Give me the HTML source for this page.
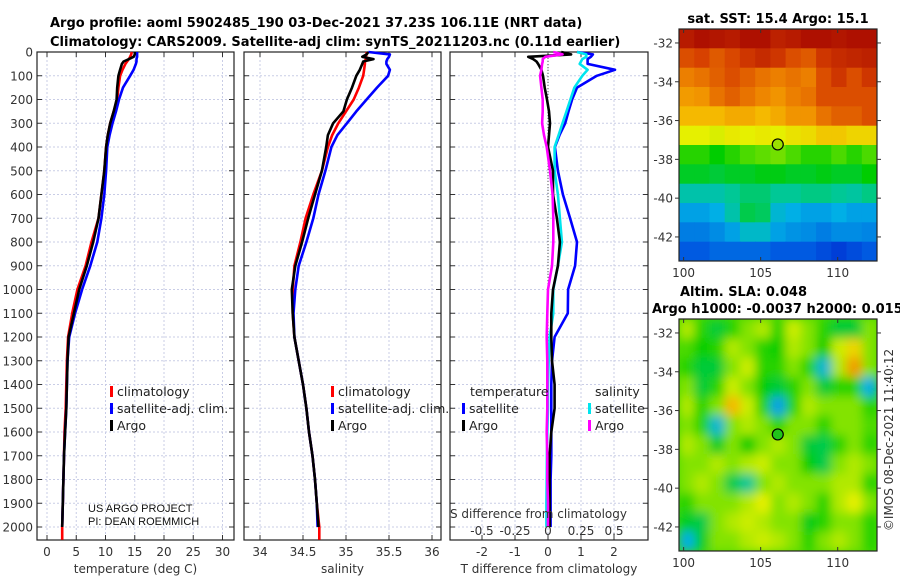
<!DOCTYPE html>
<html><head><meta charset="utf-8">
<style>
html,body{margin:0;padding:0;background:#fff;}
svg{display:block;font-family:"DejaVu Sans","Liberation Sans",sans-serif;}
.tk{font-size:12px;fill:#333;}
.ttl{font-size:13px;font-weight:bold;fill:#000;}
.lg{font-size:12.5px;fill:#222;}
</style></head>
<body>
<svg id="fig" width="900" height="580" viewBox="0 0 900 580" xmlns="http://www.w3.org/2000/svg">
<text class="ttl" x="50" y="27">Argo profile: aoml 5902485_190 03-Dec-2021 37.23S 106.11E (NRT data)</text>
<text class="ttl" x="50" y="46">Climatology: CARS2009. Satellite-adj clim: synTS_20211203.nc (0.11d earlier)</text>
<text class="ttl" x="778" y="23" text-anchor="middle">sat. SST: 15.4 Argo: 15.1</text>
<text class="ttl" x="680" y="296">Altim. SLA: 0.048</text>
<text class="ttl" x="652" y="313">Argo h1000: -0.0037 h2000: 0.015</text>
<text class="tk" transform="translate(893,440) rotate(-90)" text-anchor="middle">©IMOS 08-Dec-2021 11:40:12</text>
</svg>
<script>
// ---------- data ----------
const depths = [0,10,20,30,40,50,75,100,150,200,250,300,350,400,500,600,700,800,900,1000,1100,1200,1300,1400,1500,1600,1700,1800,1900,2000];
const tempArgo = [15.0,15.0,14.8,14.0,13.1,12.8,12.5,12.2,12.0,11.9,11.4,10.8,10.4,10.1,9.8,9.3,8.8,7.9,6.8,5.5,4.6,3.7,3.5,3.4,3.3,3.1,2.9,2.8,2.7,2.6];
const tempClim = [14.5,14.4,14.2,14.0,13.7,13.4,12.9,12.5,12.2,12.0,11.4,10.8,10.4,10.1,9.8,9.3,8.8,7.6,6.6,5.2,4.3,3.6,3.4,3.3,3.2,3.0,2.9,2.8,2.7,2.6];
const tempSat  = [15.4,15.4,15.4,15.3,15.3,15.2,14.8,14.2,13.0,12.3,11.8,11.2,10.7,10.3,10.1,9.8,9.3,8.6,7.4,6.0,4.8,3.8,3.5,3.4,3.3,3.1,2.9,2.8,2.7,2.6];
const salArgo = [35.26,35.24,35.19,35.32,35.20,35.19,35.16,35.12,35.07,35.01,34.97,34.85,34.79,34.77,34.72,34.64,34.56,34.49,34.41,34.37,34.38,34.40,34.45,34.50,34.54,34.57,34.61,34.64,34.66,34.68];
const salClim = [35.24,35.24,35.23,35.23,35.22,35.22,35.21,35.20,35.15,35.09,35.00,34.91,34.84,34.79,34.72,34.62,34.53,34.47,34.40,34.38,34.38,34.40,34.45,34.50,34.54,34.57,34.61,34.64,34.66,34.69];
const salSat  = [35.26,35.51,35.50,35.48,35.47,35.47,35.51,35.49,35.36,35.24,35.12,35.01,34.90,34.83,34.76,34.68,34.62,34.54,34.45,34.41,34.39,34.40,34.45,34.50,34.54,34.57,34.61,34.64,34.66,34.67];
const dTArgo = [0.4,0.7,-0.6,-0.45,-0.35,-0.3,-0.2,-0.15,-0.1,-0.03,0.03,0.06,0.03,0.0,0.15,0.15,0.27,0.36,0.3,0.15,0.1,0.1,0.12,0.2,0.2,0.1,0.05,0.05,0.05,0.05];
const dTSat  = [0.88,1.36,1.3,1.2,1.2,1.2,2.03,1.48,0.88,0.73,0.62,0.52,0.35,0.21,0.3,0.45,0.67,0.88,0.82,0.61,0.6,0.2,0.12,0.1,0.1,0.1,0.1,0.08,0.08,0.08];
const dSSat  = [0.22,0.29,0.29,0.26,0.25,0.24,0.30,0.26,0.20,0.17,0.14,0.11,0.08,0.05,0.05,0.075,0.09,0.105,0.075,0.04,0.04,0.012,0.005,0.0,0.0,-0.005,-0.008,-0.01,-0.012,-0.012];
const dSArgo = [0.04,0.11,-0.02,-0.04,-0.04,-0.045,-0.05,-0.06,-0.05,-0.04,-0.04,-0.045,-0.03,-0.01,0.015,0.035,0.04,0.04,0.03,0.0,-0.005,-0.01,-0.005,-0.005,-0.005,-0.01,-0.005,-0.005,0.0,0.0];
const depthTicks = [0,100,200,300,400,500,600,700,800,900,1000,1100,1200,1300,1400,1500,1600,1700,1800,1900,2000];
const tempTicks = [0,5,10,15,20,25,30];
const salTicks = [34,34.5,35,35.5,36];
const salTickLabels = ["34","34.5","35","35.5","36"];
const dTTicks = [-2,-1,0,1,2];
const dSTicks = [-0.5,-0.25,0,0.25,0.5];
const dSTickLabels = ["-0.5","-0.25","0","0.25","0.5"];
const lonTicks = [100,105,110];
const latTicks = [-32,-34,-36,-38,-40,-42];
const argoLon = 106.11, argoLat = -37.23;
const sstGrid = [
[0.95,0.97,0.96,0.95,0.97,0.97,0.94,0.95,0.97,0.97,0.96,0.97,0.97],
[0.86,0.88,0.84,0.87,0.9,0.92,0.9,0.86,0.84,0.9,0.92,0.93,0.94],
[0.78,0.8,0.83,0.86,0.83,0.8,0.78,0.8,0.78,0.86,0.9,0.86,0.9],
[0.74,0.75,0.8,0.83,0.8,0.77,0.75,0.78,0.8,0.86,0.86,0.86,0.86],
[0.7,0.7,0.7,0.72,0.72,0.7,0.72,0.75,0.75,0.8,0.83,0.83,0.86],
[0.62,0.62,0.61,0.63,0.62,0.63,0.62,0.64,0.65,0.68,0.68,0.66,0.66],
[0.5,0.5,0.48,0.5,0.52,0.53,0.54,0.52,0.5,0.5,0.52,0.5,0.52],
[0.46,0.46,0.45,0.46,0.46,0.47,0.47,0.46,0.46,0.47,0.46,0.46,0.48],
[0.38,0.38,0.38,0.4,0.42,0.42,0.4,0.4,0.41,0.41,0.4,0.39,0.41],
[0.3,0.3,0.32,0.38,0.44,0.43,0.34,0.32,0.3,0.3,0.32,0.3,0.3],
[0.25,0.25,0.27,0.3,0.35,0.35,0.3,0.28,0.27,0.25,0.27,0.27,0.26],
[0.2,0.2,0.22,0.22,0.22,0.22,0.2,0.2,0.2,0.18,0.16,0.18,0.2]];
const slaGrid = [
[0.58,0.5,0.45,0.5,0.55,0.58,0.5,0.6,0.55,0.5,0.45,0.45,0.55],
[0.52,0.48,0.5,0.58,0.55,0.5,0.48,0.58,0.55,0.48,0.6,0.66,0.55],
[0.5,0.45,0.45,0.55,0.6,0.5,0.5,0.55,0.5,0.34,0.58,0.74,0.55],
[0.55,0.45,0.5,0.6,0.55,0.48,0.45,0.5,0.55,0.45,0.5,0.5,0.32],
[0.58,0.5,0.55,0.7,0.6,0.5,0.3,0.5,0.58,0.55,0.55,0.55,0.5],
[0.55,0.5,0.34,0.55,0.58,0.55,0.5,0.55,0.55,0.5,0.55,0.55,0.52],
[0.58,0.55,0.46,0.55,0.48,0.55,0.58,0.55,0.45,0.44,0.5,0.55,0.5],
[0.55,0.55,0.58,0.55,0.58,0.6,0.55,0.55,0.48,0.44,0.55,0.58,0.55],
[0.55,0.58,0.55,0.44,0.4,0.55,0.58,0.55,0.55,0.55,0.58,0.58,0.5],
[0.5,0.55,0.55,0.55,0.58,0.62,0.55,0.58,0.55,0.5,0.58,0.62,0.55],
[0.46,0.44,0.55,0.58,0.6,0.58,0.55,0.55,0.47,0.5,0.55,0.55,0.5],
[0.32,0.46,0.55,0.55,0.58,0.6,0.58,0.55,0.5,0.55,0.58,0.55,0.5]];

// ---------- drawing ----------
const NS = "http://www.w3.org/2000/svg";
const svg = document.getElementById('fig');
function mk(tag, attrs, parent){ const e=document.createElementNS(NS,tag); for(const k in attrs) e.setAttribute(k,attrs[k]); (parent||svg).appendChild(e); return e; }
function lin(d0,d1,r0,r1){ return v => r0 + (v-d0)/(d1-d0)*(r1-r0); }
const PT=52, PB=540;
const yD = lin(0,2000,52,527);
const panels = [
 {name:'temperature', x0:37, x1:234, xs:lin(0,30,47,222.5), ticks:tempTicks, labels:tempTicks.map(String), title:'temperature (deg C)'},
 {name:'salinity', x0:244, x1:441, xs:lin(34,36,260,432), ticks:salTicks, labels:salTickLabels, title:'salinity'},
 {name:'difference', x0:450, x1:648, xs:lin(-2,2,482,614), ticks:dTTicks, labels:dTTicks.map(String), title:'T difference from climatology'}
];
panels.forEach((p,pi)=>{
  const g = mk('g',{});
  
  
  depthTicks.forEach(d=>{
    const gl = mk('line',{x1:p.x0,x2:p.x1,y1:yD(d),y2:yD(d),stroke:'#c9cde6','stroke-width':1,'stroke-dasharray':'2,2'},g);
    
    
    mk('line',{x1:p.x0,x2:p.x0+5,y1:yD(d),y2:yD(d),stroke:'#333'},g);
    mk('line',{x1:p.x1,x2:p.x1-5,y1:yD(d),y2:yD(d),stroke:'#333'},g);
    if(pi===0){
      const t = mk('text',{class:'tk',x:33,y:yD(d)+4.5,'text-anchor':'end'},svg);
      t.textContent = d;
      
      
    }
  });
  p.ticks.forEach((v,i)=>{
    const x = p.xs(v);
    const gl = mk('line',{x1:x,x2:x,y1:PT,y2:PB,stroke:'#c9cde6','stroke-width':1,'stroke-dasharray':'2,2'},g);
    
    
    mk('line',{x1:x,x2:x,y1:PB,y2:PB-5,stroke:'#333'},g);
    mk('line',{x1:x,x2:x,y1:PT,y2:PT+5,stroke:'#333'},g);
    const t = mk('text',{class:'tk',x:x,y:556,'text-anchor':'middle'},svg);
    t.textContent = p.labels[i];
    
    
  });
  const fr = mk('rect',{x:p.x0,y:PT,width:p.x1-p.x0,height:PB-PT,fill:'none',stroke:'#222','stroke-width':1.2},g);
  
  
  const at = mk('text',{class:'tk',x:(p.x0+p.x1)/2,y:573,'text-anchor':'middle','font-size':'13px'},svg);
  at.textContent = p.title;
  
  
});
function drawLine(vals, xs, color, name, maxDepth){
  const pts = vals.map((v,i)=> xs(v).toFixed(1)+','+yD(depths[i]).toFixed(1));
  if(maxDepth) pts.push(xs(vals[vals.length-1]).toFixed(1)+','+yD(maxDepth).toFixed(1));
  const l = mk('polyline',{points:pts.join(' '),fill:'none',stroke:color,'stroke-width':2.6,'stroke-linejoin':'round'});
  
  
}
const P=panels;
const z = mk('line',{x1:P[2].xs(0),x2:P[2].xs(0),y1:PT,y2:yD(2000),stroke:'#555','stroke-width':1,'stroke-dasharray':'1,2'});


drawLine(tempClim,P[0].xs,'#ff0000','temp-climatology-line',2054);
drawLine(tempSat,P[0].xs,'#0000ff','temp-satellite-line');
drawLine(tempArgo,P[0].xs,'#000000','temp-argo-line');
drawLine(salClim,P[1].xs,'#ff0000','salinity-climatology-line',2054);
drawLine(salSat,P[1].xs,'#0000ff','salinity-satellite-line');
drawLine(salArgo,P[1].xs,'#000000','salinity-argo-line');
const xsS = v => P[2].xs(v*4);
drawLine(dTSat,P[2].xs,'#0000ff','tdiff-satellite-line');
drawLine(dSSat,xsS,'#00e5ee','sdiff-satellite-line');
drawLine(dTArgo,P[2].xs,'#000000','tdiff-argo-line');
drawLine(dSArgo,xsS,'#ff00ff','sdiff-argo-line');
dSTicks.forEach((v,i)=>{
  const t = mk('text',{class:'tk',x:xsS(v),y:535,'text-anchor':'middle','font-size':'12.5px'});
  t.textContent = dSTickLabels[i];
  
  
});
const sdt = mk('text',{class:'tk',x:450,y:518,'font-size':'13px'});
sdt.textContent = 'S difference from climatology';


function legend(x,y,color,label,name){
  const r = mk('rect',{x:x,y:y-10,width:3,height:11,fill:color});
  
  
  const t = mk('text',{class:'lg',x:x+7,y:y});
  t.textContent = label;
  
  
}
legend(110,396,'#ff0000','climatology','legend-temp-climatology');
legend(110,413,'#0000ff','satellite-adj. clim.','legend-temp-satellite');
legend(110,430,'#000000','Argo','legend-temp-argo');
legend(331,396,'#ff0000','climatology','legend-sal-climatology');
legend(331,413,'#0000ff','satellite-adj. clim.','legend-sal-satellite');
legend(331,430,'#000000','Argo','legend-sal-argo');
const lt1 = mk('text',{class:'lg',x:470,y:396}); lt1.textContent='temperature';


const lt2 = mk('text',{class:'lg',x:595,y:396}); lt2.textContent='salinity';


legend(462,413,'#0000ff','satellite','legend-tdiff-satellite');
legend(462,430,'#000000','Argo','legend-tdiff-argo');
legend(588,413,'#00e5ee','satellite','legend-sdiff-satellite');
legend(588,430,'#ff00ff','Argo','legend-sdiff-argo');
const c1 = mk('text',{x:88,y:512,'font-size':'11px',fill:'#111','font-family':'Liberation Sans Narrow, Liberation Sans, sans-serif'}); c1.textContent='US ARGO PROJECT';


const c2 = mk('text',{x:88,y:525,'font-size':'11px',fill:'#111','font-family':'Liberation Sans Narrow, Liberation Sans, sans-serif'}); c2.textContent='PI: DEAN ROEMMICH';



// ---------- maps ----------
const cmapStops = [[0.0,0,0,140],[0.1,0,20,200],[0.2,0,90,225],[0.32,0,175,230],[0.4,0,200,150],[0.48,0,205,0],[0.56,150,230,0],[0.62,230,240,0],[0.7,245,185,0],[0.76,240,140,0],[0.88,215,65,0],[1.0,160,0,0]];
function cmap(v){
  v=Math.max(0,Math.min(1,v));
  for(let i=1;i<cmapStops.length;i++){
    const a=cmapStops[i-1], b=cmapStops[i];
    if(v<=b[0]){ const t=(v-a[0])/(b[0]-a[0]);
      return 'rgb('+[1,2,3].map(k=>Math.round(a[k]+(b[k]-a[k])*t)).join(',')+')'; }
  }
  return 'rgb(160,0,0)';
}
const defs = mk('defs',{});
const flt = mk('filter',{id:'blur',x:'-20%',y:'-20%',width:'140%',height:'140%'},defs);
mk('feGaussianBlur',{stdDeviation:5},flt);
const lonMin=99.7, lonMax=112.55, latTop=-31.28, latBot=-43.24;
function drawMap(grid, x0,x1,y0,y1, name, blur, markerColor){
  const xL = lin(lonMin,lonMax,x0,x1), yL = lin(latTop,latBot,y0,y1);
  const cp = mk('clipPath',{id:'clip-'+name},defs);
  mk('rect',{x:x0,y:y0,width:x1-x0,height:y1-y0},cp);
  const outer = mk('g',{'clip-path':'url(#clip-'+name+')'});
  
  
  if(blur){
    const bg = mk('rect',{x:x0,y:y0,width:x1-x0,height:y1-y0,fill:cmap(0.52)},outer);
    
    
  }
  const g = mk('g', blur?{filter:'url(#blur)'}:{}, outer);
  const nr=grid.length, nc=grid[0].length;
  const dLon=(lonMax-lonMin)/nc, dLat=(latTop-latBot)/nr;
  grid.forEach((row,r)=>row.forEach((v,c)=>{
    const xa=xL(lonMin+c*dLon), xb=xL(lonMin+(c+1)*dLon);
    const ya=yL(latTop-r*dLat), yb=yL(latTop-(r+1)*dLat);
    const cell = mk('rect',{x:xa.toFixed(1),y:ya.toFixed(1),width:(xb-xa+0.6).toFixed(1),height:(yb-ya+0.6).toFixed(1),fill:cmap(v)},g);
    
    
  }));
  const m = mk('circle',{cx:xL(argoLon),cy:yL(argoLat),r:5.5,fill:markerColor,stroke:'#000','stroke-width':1.2});
  
  
  const fr = mk('rect',{x:x0,y:y0,width:x1-x0,height:y1-y0,fill:'none',stroke:'#222','stroke-width':1.2});
  
  
  lonTicks.forEach(v=>{
    mk('line',{x1:xL(v),x2:xL(v),y1:y1,y2:y1-4,stroke:'#333'});
    mk('line',{x1:xL(v),x2:xL(v),y1:y0,y2:y0+4,stroke:'#333'});
    const t = mk('text',{class:'tk',x:xL(v),y:y1+16,'text-anchor':'middle'});
    t.textContent = v;
    
    
  });
  latTicks.forEach(v=>{
    mk('line',{x1:x0,x2:x0-4,y1:yL(v),y2:yL(v),stroke:'#333'});
    mk('line',{x1:x1,x2:x1+4,y1:yL(v),y2:yL(v),stroke:'#333'});
    const t = mk('text',{class:'tk',x:x0-6,y:yL(v)+4.5,'text-anchor':'end'});
    t.textContent = v;
    
    
  });
}
drawMap(sstGrid,679,877,29,261,'sst',false,'#9be000');
drawMap(slaGrid,679,877,319,551,'sla',true,'#22c41a');
</script>
</body></html>
